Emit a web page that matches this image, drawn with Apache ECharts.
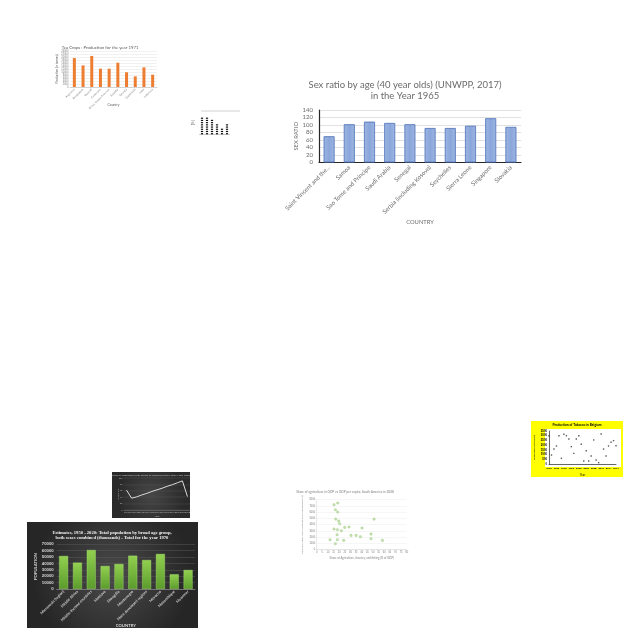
<!DOCTYPE html>
<html>
<head>
<meta charset="utf-8">
<script src="https://cdn.jsdelivr.net/npm/echarts@6/dist/echarts.min.js"></script>
<style>html,body{margin:0;padding:0;background:#fff}#c{width:640px;height:640px}</style>
</head>
<body>
<div id="c"></div>
<script>
// ---- main chart: sex ratio ----
const mainCats = ['Saint Vincent and the Grenadines','Samoa','Sao Tome and Principe','Saudi Arabia','Senegal','Serbia (including Kosovo)','Seychelles','Sierra Leone','Singapore','Slovakia'];
const mainVals = [70,102,109,105.5,102,92,92,98,118,95];
// ---- tea crops ----
const teaCats = ['Argentina','Bangladesh','Burundi','Cameroon','China, Taiwan Province','Ecuador','Georgia','Guatemala','India','Indonesia'];
const teaVals = [19300,14400,20700,12200,12200,16200,9800,7100,13100,8200];
// ---- small dashed bars ----
const smallCats = ['2012','2013','2014','2015','2016','2017'];
const smallVals = [5.0,5.0,4.3,2.5,1.3,3.0];
// ---- dark line ----
const lineCats = ['1990','1991','1992','1993','1994','1995','1996','1997','1998','1999','2000','2001','2002'];
const lineVals = [62,37,41,47,52,58,63,68,74,79,85,91,42];
// ---- population ----
const popCats = ['Micronesia (region)','Middle Africa','Middle-income countries','Moldova','Mongolia','Montenegro','More developed regions','Morocco','Mozambique','Myanmar'];
const popVals = [51700,41300,61100,36000,39200,52200,45400,54900,23000,29800];
// ---- green scatter ----
const agriX = [15.4,18.7,16.6,18.7,16.9,19.6,20.4,15.4,18.4,24.9,28.7,21.9,18.1,30.5,35.0,38.8,40.3,51.0,48.3,48.3,58.4,11.9,18.4,24.0,16.6];
const gdpY = [7200,7470,6400,6030,4900,4590,4160,3310,3200,3570,3630,3040,2400,2290,2290,2080,3470,4900,2500,1760,1490,1600,1600,1490,960];
// ---- yellow scatter ----
const tobYears = [1990,1991,1992,1993,1994,1995,1996,1997,1998,1999,2000,2001,2002,2003,2004,2005,2006,2007,2008,2009,2010,2011,2012,2013,2014,2015,2016,2017];
const tobVals = [3000,950,1590,1910,3000,600,3150,3000,2650,1840,1130,2650,3000,2090,320,1410,320,850,2550,420,140,3180,1590,850,1910,2300,2480,1940];

const F = 'Lato, "Open Sans", sans-serif';
function pairs(a,b){return a.map((v,i)=>[v,b[i]]);}
function mainLabel(s){return s.length>25 ? s.slice(0,21)+'...' : s;}
function plain(v){return String(v);}

const grids = [
  {left:319, top:110, width:202, height:52.5},   // 0 main
  {left:70, top:51, width:87, height:36},         // 1 tea
  {left:199.5, top:111, width:30, height:23.3},   // 2 small
  {left:124, top:478, width:66, height:32},        // 3 dark line
  {left:56.7, top:544.3, width:138.3, height:44.7},// 4 population
  {left:316.7, top:499.7, width:90, height:50},   // 5 green scatter
  {left:549, top:431, width:67, height:33}        // 6 yellow
].map(g => Object.assign({outerBoundsMode:'none', containLabel:false}, g));

const option = {
  animation:false,
  grid: grids,
  graphic: [
    {type:'rect', z:-10, silent:true, shape:{x:27,y:522,width:171,height:106},
      style:{fill:{type:'radial',x:0.5,y:0.5,r:0.75,colorStops:[{offset:0,color:'#4a4a4a'},{offset:1,color:'#262626'}]}}},
    {type:'rect', z:-10, silent:true, shape:{x:112,y:472,width:78,height:46},
      style:{fill:{type:'radial',x:0.5,y:0.5,r:0.75,colorStops:[{offset:0,color:'#474747'},{offset:1,color:'#2a2a2a'}]}}},
    {type:'rect', z:-10, silent:true, shape:{x:531,y:421,width:92,height:56}, style:{fill:'#ffff00'}},
    {type:'rect', z:-9, silent:true, shape:{x:545,y:429,width:76,height:38}, style:{fill:'#ffffff'}},
    {type:'text', x:405, y:85, style:{text:'Sex ratio by age (40 year olds) (UNWPP, 2017)', align:'center', verticalAlign:'middle', fontSize:9.5, fontFamily:F, fill:'#6b6b6b'}},
    {type:'text', x:405, y:96, style:{text:'in the Year 1965', align:'center', verticalAlign:'middle', fontSize:9.5, fontFamily:F, fill:'#6b6b6b'}},
    {type:'text', x:100, y:47.5, style:{text:'Tea Crops : Production for the year 1971', align:'center', verticalAlign:'middle', fontSize:4.3, fontFamily:F, fill:'#595959'}},
    {type:'text', x:112, y:532.5, style:{text:'Estimates, 1950 - 2020: Total population by broad age group,', align:'center', verticalAlign:'middle', fontSize:4.6, fontWeight:'bold', fontFamily:'"Liberation Serif", serif', fill:'#f2f2f2'}},
    {type:'text', x:112, y:538.3, style:{text:'both sexes combined (thousands) - Total for the year 1970', align:'center', verticalAlign:'middle', fontSize:4.6, fontWeight:'bold', fontFamily:'"Liberation Serif", serif', fill:'#f2f2f2'}},
    {type:'text', x:151, y:475.5, style:{text:'Share of population with access to improved water, Total 1990-2002', align:'center', verticalAlign:'middle', fontSize:2.6, fontFamily:F, fill:'#bfbfbf'}},
    {type:'text', x:345, y:492, style:{text:'Share of agriculture in GDP vs GDP per capita, South America in 2008', align:'center', verticalAlign:'middle', fontSize:3.2, fontFamily:F, fill:'#7f7f7f'}},
    {type:'text', x:577, y:425, style:{text:'Production of Tobacco in Belgium', align:'center', verticalAlign:'middle', fontSize:3.3, fontWeight:'bold', fontFamily:F, fill:'#000'}},
    {type:'line', silent:true, shape:{x1:201,y1:111,x2:240,y2:111}, style:{stroke:'#d0d0d0', lineWidth:1}}
  ],
  xAxis: [
    {gridIndex:0, type:'category', data:mainCats, name:'COUNTRY', nameLocation:'middle', nameGap:57, nameMoveOverlap:false,
      nameTextStyle:{fontSize:5.8, color:'#6b6b6b', fontFamily:F},
      axisLine:{lineStyle:{color:'#262626', width:1.2}}, axisTick:{show:false},
      axisLabel:{rotate:45, fontSize:6, color:'#6b6b6b', fontFamily:F, margin:4, interval:0, formatter:mainLabel}},
    {gridIndex:1, type:'category', data:teaCats, name:'Country', nameLocation:'middle', nameGap:16, nameMoveOverlap:false,
      nameTextStyle:{fontSize:3.3, color:'#595959', fontFamily:F},
      axisLine:{lineStyle:{color:'#bfbfbf', width:0.6}}, axisTick:{show:false},
      axisLabel:{rotate:45, fontSize:2.8, color:'#7f7f7f', fontFamily:F, margin:2, interval:0}},
    {gridIndex:2, type:'category', data:smallCats,
      axisLine:{lineStyle:{color:'#bfbfbf', width:0.8}}, axisTick:{show:false}, axisLabel:{show:false}},
    {gridIndex:3, type:'category', data:lineCats, name:'Year', nameLocation:'middle', nameGap:5, nameMoveOverlap:false,
      nameTextStyle:{fontSize:2.6, color:'#bfbfbf', fontFamily:F},
      axisLine:{lineStyle:{color:'#7f7f7f', width:0.5}}, axisTick:{show:false},
      axisLabel:{fontSize:2.2, color:'#bfbfbf', margin:1.5, interval:0}},
    {gridIndex:4, type:'category', data:popCats, name:'COUNTRY', nameLocation:'middle', nameGap:35, nameMoveOverlap:false,
      nameTextStyle:{fontSize:4.2, color:'#d9d9d9', fontWeight:'bold', fontFamily:F},
      axisLine:{lineStyle:{color:'#7f7f7f', width:0.8}}, axisTick:{show:false},
      axisLabel:{rotate:45, fontSize:3.8, color:'#cfcfcf', fontWeight:'bold', fontFamily:F, margin:2, interval:0}},
    {gridIndex:5, type:'value', min:0, max:80, interval:5, name:'Share of Agriculture, forestry, and fishing (% of GDP)', nameLocation:'middle', nameGap:7, nameMoveOverlap:false,
      nameTextStyle:{fontSize:2.8, color:'#7f7f7f', fontFamily:F},
      axisLine:{show:true, lineStyle:{color:'#d9d9d9', width:0.6}}, axisTick:{show:false}, splitLine:{show:false},
      axisLabel:{fontSize:2.6, color:'#7f7f7f', margin:1.5, formatter:plain}},
    {gridIndex:6, type:'value', min:1990, max:2017, interval:3, name:'Year', nameLocation:'middle', nameGap:10, nameMoveOverlap:false,
      nameTextStyle:{fontSize:3, color:'#000', fontFamily:F},
      axisLine:{show:true, lineStyle:{color:'#000', width:0.6}}, axisTick:{show:false}, splitLine:{show:false},
      axisLabel:{fontSize:2.5, color:'#000', fontWeight:'bold', margin:3, hideOverlap:false, formatter:plain}}
  ],
  yAxis: [
    {gridIndex:0, type:'value', min:0, max:140, interval:20, name:'SEX RATIO', nameLocation:'middle', nameGap:20, nameMoveOverlap:false,
      nameTextStyle:{fontSize:5.8, color:'#6b6b6b', fontFamily:F},
      axisLine:{show:true, lineStyle:{color:'#262626', width:1.2}}, axisTick:{show:false},
      splitLine:{lineStyle:{color:'#d9d9d9', width:0.8}},
      axisLabel:{fontSize:6, color:'#6b6b6b', fontFamily:F, margin:6}},
    {gridIndex:1, type:'value', min:0, max:24000, interval:2000, name:'Production (in tonnes)', nameLocation:'middle', nameGap:11, nameMoveOverlap:false,
      nameTextStyle:{fontSize:3, color:'#595959', fontFamily:F},
      axisLine:{show:false}, axisTick:{show:false},
      splitLine:{lineStyle:{color:'#e3e3e3', width:0.5}},
      axisLabel:{fontSize:2.6, color:'#7f7f7f', margin:1.5, formatter:plain}},
    {gridIndex:2, type:'value', min:0, max:7, interval:7, name:'(%)', nameLocation:'middle', nameGap:4, nameMoveOverlap:false,
      nameTextStyle:{fontSize:3.5, color:'#595959'},
      axisLine:{show:false}, axisTick:{show:false}, splitLine:{show:false}, axisLabel:{show:false}},
    {gridIndex:3, type:'value', min:0, max:100, interval:20, name:'Share (%)', nameLocation:'middle', nameGap:5, nameMoveOverlap:false,
      nameTextStyle:{fontSize:2.4, color:'#bfbfbf'},
      axisLine:{show:false}, axisTick:{show:false},
      splitLine:{lineStyle:{color:'#555', width:0.4}},
      axisLabel:{fontSize:2.2, color:'#bfbfbf', margin:1.5}},
    {gridIndex:4, type:'value', min:0, max:70000, interval:10000, name:'POPULATION', nameLocation:'middle', nameGap:19, nameMoveOverlap:false,
      nameTextStyle:{fontSize:4.2, color:'#d9d9d9', fontWeight:'bold', fontFamily:F},
      axisLine:{show:false}, axisTick:{show:false},
      splitLine:{lineStyle:{color:'#595959', width:0.5}},
      axisLabel:{fontSize:4.3, color:'#d9d9d9', fontWeight:'bold', margin:3, formatter:plain}},
    {gridIndex:5, type:'value', min:0, max:8000, interval:1000, name:'GDP per capita, PPP (constant 2011 international $)', nameLocation:'middle', nameGap:13, nameMoveOverlap:false,
      nameTextStyle:{fontSize:2.6, color:'#7f7f7f', fontFamily:F},
      axisLine:{show:true, lineStyle:{color:'#d9d9d9', width:0.6}}, axisTick:{show:false},
      splitLine:{lineStyle:{color:'#ececec', width:0.5}},
      axisLabel:{fontSize:2.6, color:'#7f7f7f', margin:1.5, formatter:plain}},
    {gridIndex:6, type:'value', min:0, max:3500, interval:500, name:'Production (in tonnes)', nameLocation:'middle', nameGap:13, nameMoveOverlap:false,
      nameTextStyle:{fontSize:2.6, color:'#000', fontFamily:F},
      axisLine:{show:true, lineStyle:{color:'#000', width:0.6}}, axisTick:{show:false}, splitLine:{show:false},
      axisLabel:{fontSize:2.8, color:'#000', fontWeight:'bold', margin:2, formatter:plain}}
  ],
  series: [
    {type:'bar', xAxisIndex:0, yAxisIndex:0, data:mainVals, barWidth:11,
      itemStyle:{color:{type:'linear',x:0,y:0,x2:1,y2:0,colorStops:[{offset:0,color:'#9db5e2'},{offset:0.5,color:'#8aa6da'},{offset:1,color:'#9db5e2'}]},
        borderColor:'#4a70b8', borderWidth:0.8}},
    {type:'bar', xAxisIndex:1, yAxisIndex:1, data:teaVals, barWidth:3, itemStyle:{color:'#ed7d31'}},
    {type:'pictorialBar', xAxisIndex:2, yAxisIndex:2, data:smallVals, symbol:'rect', symbolRepeat:true,
      symbolSize:[2.2,1.2], symbolMargin:0.6, itemStyle:{color:'#111'}},
    {type:'line', xAxisIndex:3, yAxisIndex:3, data:lineVals, symbol:'none', lineStyle:{color:'#d9d9d9', width:1}},
    {type:'bar', xAxisIndex:4, yAxisIndex:4, data:popVals, barWidth:9,
      itemStyle:{color:{type:'linear',x:0,y:0,x2:0,y2:1,colorStops:[{offset:0,color:'#92d050'},{offset:1,color:'#5b9b2c'}]},
        borderColor:'#a9e07a', borderWidth:0.4}},
    {type:'scatter', xAxisIndex:5, yAxisIndex:5, data:pairs(agriX,gdpY), symbol:'circle', symbolSize:2.6,
      itemStyle:{color:'#b4d89a', borderColor:'#8fbc6e', borderWidth:0.3}},
    {type:'scatter', xAxisIndex:6, yAxisIndex:6, data:pairs(tobYears,tobVals), symbol:'rect', symbolSize:1.4,
      itemStyle:{color:'#333'}}
  ]
};

const chart = echarts.init(document.getElementById('c'), null, {renderer:'canvas'});
chart.setOption(option);
</script>
</body>
</html>
